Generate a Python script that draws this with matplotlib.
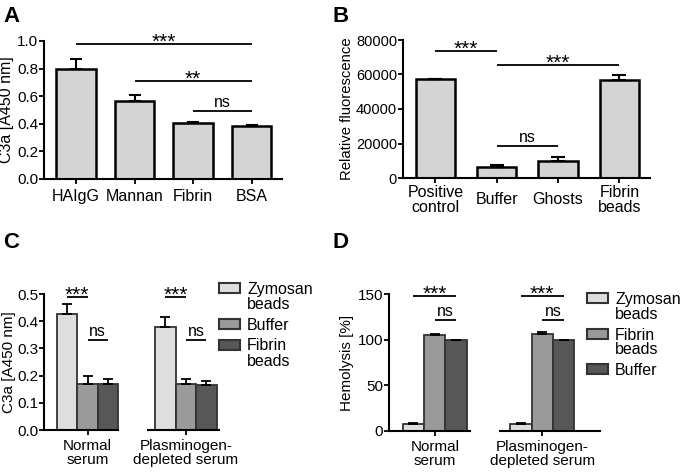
import numpy as np
import matplotlib
matplotlib.use("Agg")
import matplotlib.pyplot as plt
from matplotlib.patches import Rectangle

plt.rcParams['font.family'] = ['Liberation Sans', 'DejaVu Sans']

# panel A: C3a generation
a_labels = ["HAIgG", "Mannan", "Fibrin", "BSA"]
a_mean = [0.795, 0.568, 0.403, 0.384]
a_sem = [0.072, 0.043, 0.007, 0.007]
a_sig = [(0, 3, 0.98, "***"), (1, 3, 0.71, "**"), (2, 3, 0.49, "ns")]

# panel B: relative fluorescence
b_labels = ["Positive\ncontrol", "Buffer", "Ghosts", "Fibrin\nbeads"]
b_mean = [57400, 6400, 9900, 56800]
b_sem = [0, 950, 2300, 3100]
b_sig = [(0, 1, 73600, "***"), (1, 3, 65500, "***"), (1, 2, 18500, "ns")]

# panel C: C3a, grouped by serum
c_groups = ["Normal\nserum", "Plasminogen-\ndepleted serum"]
c_series = ["Zymosan\nbeads", "Buffer", "Fibrin\nbeads"]
c_mean = [[0.427, 0.380], [0.169, 0.169], [0.169, 0.165]]
c_sem = [[0.036, 0.037], [0.029, 0.017], [0.017, 0.015]]
c_sig = [(0, 1, 0.49, "***"), (1, 2, 0.33, "ns")]

# panel D: hemolysis
d_groups = ["Normal\nserum", "Plasminogen-\ndepleted serum"]
d_series = ["Zymosan\nbeads", "Fibrin\nbeads", "Buffer"]
d_mean = [[7.6, 7.2], [105.5, 106.1], [100, 100]]
d_sem = [[1.6, 2.0], [0.5, 2.5], [0, 0]]
d_sig = [(0, 2, 148, "***"), (1, 2, 121.5, "ns")]

W, H = 680, 472
fig = plt.figure(figsize=(W / 100, H / 100), dpi=100)


def px_axes(l, t, r, b):
    return fig.add_axes([l / W, 1 - b / H, (r - l) / W, (b - t) / H])


def style(ax, size=11):
    for s in ("top", "right"):
        ax.spines[s].set_visible(False)
    for s in ("left", "bottom"):
        ax.spines[s].set_linewidth(1.5)
    ax.tick_params(direction="out", length=3.5, width=1.3, labelsize=size, colors="black")
    ax.tick_params(axis="y", pad=0.8)


def sig(ax, x0, x1, y, label):
    ax.plot([x0, x1], [y, y], color="black", lw=1.3, clip_on=False, solid_capstyle="butt")
    if label.startswith("*"):
        ax.annotate(label, xy=((x0 + x1) / 2, y), xytext=(0, -3), textcoords="offset points",
                    ha="center", va="baseline", fontsize=15)
    else:
        ax.annotate(label, xy=((x0 + x1) / 2, y), xytext=(0, 3), textcoords="offset points",
                    ha="center", va="baseline", fontsize=11.5)


def letter(x, y, s):
    fig.text(x / W, 1 - y / H, s, ha="left", va="top", fontsize=16, fontweight="bold")


def legend(x, y_first, labels, colors, edge):
    y = y_first
    for lab, col in zip(labels, colors):
        fig.add_artist(Rectangle((x / W, 1 - (y + 5) / H), 21 / W, 10 / H, transform=fig.transFigure,
                                 facecolor=col, edgecolor=edge, lw=1.5))
        for k, line in enumerate(lab.split("\n")):
            fig.text((x + 28) / W, 1 - (y + 6 + 15 * k) / H, line, ha="left", va="baseline",
                     fontsize=11.5)
        y += 21 + 14.5 * lab.count("\n")


# ---- A ----
ax = px_axes(44, 41, 282, 179)
style(ax, 10.5)
xa = np.arange(len(a_labels))
ax.bar(xa, a_mean, width=0.68, color="#d4d4d4", edgecolor="black", lw=1.8, zorder=2)
ax.errorbar(xa, a_mean, yerr=[np.zeros(len(xa)), a_sem], fmt="none", ecolor="black",
            elinewidth=1.5, capsize=4.5, capthick=1.5, zorder=3)
ax.set_xlim(-0.547, 3.52)
ax.set_ylim(0, 1.0)
ax.set_yticks(np.arange(0, 1.01, 0.2))
ax.set_yticklabels([f"{v:.1f}" for v in np.arange(0, 1.01, 0.2)], fontsize=11)
ax.set_xticks(xa)
ax.set_xticklabels(a_labels, fontsize=11.5)
ax.set_ylabel("C3a [A450 nm]", fontsize=11.5)
ax.yaxis.set_label_coords(-0.125, 0.5)
for s in a_sig:
    sig(ax, *s)
letter(3, 6, "A")

# ---- B ----
ax = px_axes(403, 40, 650, 178)
style(ax, 10.5)
xb = np.arange(len(b_labels))
ax.bar(xb, b_mean, width=0.64, color="#d4d4d4", edgecolor="black", lw=1.8, zorder=2)
ax.errorbar(xb, b_mean, yerr=[np.zeros(len(xb)), b_sem], fmt="none", ecolor="black",
            elinewidth=1.5, capsize=5, capthick=1.5, zorder=3)
ax.set_xlim(-0.53, 3.5)
ax.set_ylim(0, 80000)
ax.set_yticks(np.arange(0, 80001, 20000))
ax.set_xticks(xb)
ax.set_xticklabels(b_labels, fontsize=11.5, va="center", linespacing=1.0)
ax.tick_params(axis="x", pad=12)
ax.set_ylabel("Relative fluorescence", fontsize=10.7)
ax.yaxis.set_label_coords(-0.2, 0.5)
for s in b_sig:
    sig(ax, *s)
letter(333, 6, "B")


def grouped(ax, groups, series, mean, sem, sigs, offset, colors, seg_end, seg2):
    n = len(series)
    for i, (lab, col) in enumerate(zip(series, colors)):
        xs = np.arange(len(groups)) * offset + i
        ax.bar(xs, mean[i], width=1.0, color=col, edgecolor="#333333", lw=1.3, zorder=2)
        ax.errorbar(xs, mean[i], yerr=[np.zeros(len(xs)), sem[i]], fmt="none", ecolor="black",
                    elinewidth=1.3, capsize=3.5, capthick=1.3, zorder=3)
    centers = np.arange(len(groups)) * offset + (n - 1) / 2
    ax.set_xticks(centers)
    ax.set_xticklabels(groups, fontsize=11, va="center", linespacing=1.0)
    ax.tick_params(axis="x", pad=13)
    ax.spines["bottom"].set_visible(False)
    tr = ax.get_xaxis_transform()
    x_left = ax.get_xlim()[0]
    ax.plot([x_left, seg_end], [0, 0], color="black", lw=1.5, transform=tr, clip_on=False)
    ax.plot([seg2[0], seg2[1]], [0, 0], color="black", lw=1.5, transform=tr, clip_on=False)
    for g in range(len(groups)):
        for x0, x1, y, lab in sigs:
            sig(ax, g * offset + x0, g * offset + x1, y, lab)


grey3 = ["#dedede", "#9a9a9a", "#575757"]

# ---- C ----
ax = px_axes(44, 294, 230, 430)
style(ax)
ax.set_xlim(-1.122, 7.95)
ax.set_ylim(0, 0.5)
ax.set_yticks(np.arange(0, 0.51, 0.1))
ax.set_yticklabels([f"{v:.1f}" for v in np.arange(0, 0.51, 0.1)])
grouped(ax, c_groups, c_series, c_mean, c_sem, c_sig, 4.8, grey3, 2.49, (3.95, 7.4))
ax.set_ylabel("C3a [A450 nm]", fontsize=11)
ax.yaxis.set_label_coords(-0.15, 0.5)
legend(219, 288, c_series, grey3, "#333333")
letter(3, 232, "C")

# ---- D ----
ax = px_axes(389, 294, 600, 431)
style(ax)
ax.set_xlim(-1.15, 8.76)
ax.set_ylim(0, 150)
ax.set_yticks([0, 50, 100, 150])
grouped(ax, d_groups, d_series, d_mean, d_sem, d_sig, 5.05, grey3, 2.65, (4.06, 8.76))
ax.set_ylabel("Hemolysis [%]", fontsize=11)
ax.yaxis.set_label_coords(-0.165, 0.5)
legend(587, 298, d_series, grey3, "#333333")
letter(333, 232, "D")

fig.savefig("out.png", dpi=100)
